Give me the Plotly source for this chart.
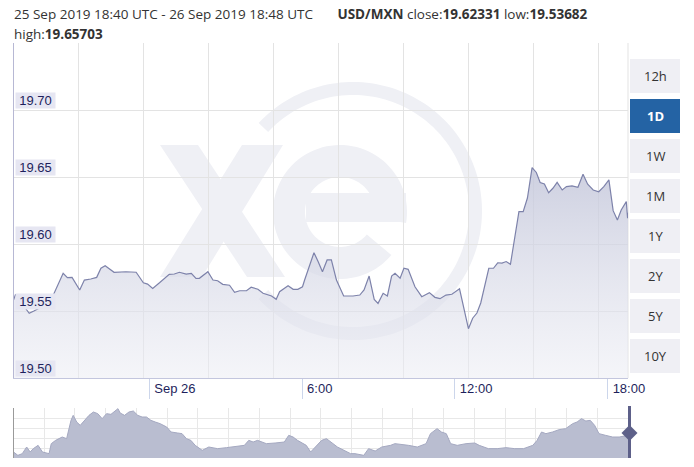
import numpy as np
import pandas as pd
import plotly.graph_objects as go

W, H = 694, 467

# ---------------- data ----------------
start_time = "2019-09-25 18:40"
end_time = "2019-09-26 18:48"
minutes_after_start = [0, 5, 13, 37, 48, 67, 92, 117, 127, 138, 156, 167, 182, 196, 206, 216, 237, 265, 289, 306,
                       316, 328, 344, 367, 379, 391, 407, 419, 430, 438, 458, 470, 481, 493, 509, 521, 533, 549, 560, 576,
                       588, 608, 619, 627, 647, 659, 670, 681, 686, 698, 708, 718, 728, 739, 749, 761, 778, 800, 816, 826,
                       838, 850, 859, 871, 881, 891, 899, 911, 920, 930, 946, 962, 980, 993, 1005, 1019, 1033, 1051, 1060, 1072,
                       1082, 1092, 1101, 1111, 1120, 1131, 1141, 1151, 1161, 1171, 1180, 1191, 1201, 1211, 1222, 1232, 1241, 1251, 1261, 1271,
                       1281, 1293, 1303, 1316, 1330, 1342, 1353, 1366, 1379, 1391, 1403, 1413, 1423, 1432, 1444, 1447, 1448]
usd_mxn = [19.5582, 19.5625, 19.5587, 19.5483, 19.5500, 19.5532, 19.5607, 19.5781, 19.5749, 19.5751,
           19.5657, 19.5731, 19.5739, 19.5751, 19.5819, 19.5838, 19.5789, 19.5793, 19.5789, 19.5711,
           19.5701, 19.5669, 19.5711, 19.5774, 19.5776, 19.5789, 19.5776, 19.5781, 19.5744, 19.5744,
           19.5793, 19.5731, 19.5726, 19.5699, 19.5692, 19.5640, 19.5651, 19.5651, 19.5677, 19.5662,
           19.5632, 19.5612, 19.5587, 19.5644, 19.5689, 19.5662, 19.5662, 19.5681, 19.5731, 19.5843,
           19.5935, 19.5868, 19.5793, 19.5881, 19.5881, 19.5731, 19.5612, 19.5612, 19.5619, 19.5657,
           19.5761, 19.5587, 19.5557, 19.5632, 19.5612, 19.5761, 19.5781, 19.5744, 19.5819, 19.5811,
           19.5681, 19.5607, 19.5637, 19.5602, 19.5592, 19.5619, 19.5625, 19.5666, 19.5537, 19.53682,
           19.5446, 19.5485, 19.5560, 19.5694, 19.5819, 19.5819, 19.5860, 19.5858, 19.5869, 19.5849,
           19.6030, 19.6241, 19.6241, 19.6343, 19.65703, 19.6534, 19.6459, 19.6448, 19.6383, 19.6416,
           19.6460, 19.6403, 19.6428, 19.6433, 19.6423, 19.6520, 19.6446, 19.6403, 19.6390, 19.6428,
           19.6478, 19.6249, 19.6179, 19.6254, 19.6316, 19.6192, 19.62331]

x_tick_times = ["2019-09-26 00:00", "2019-09-26 06:00", "2019-09-26 12:00", "2019-09-26 18:00"]
x_tick_labels = ["Sep 26", "6:00", "12:00", "18:00"]
y_tick_values = [19.50, 19.55, 19.60, 19.65, 19.70]
y_tick_labels = ["19.50", "19.55", "19.60", "19.65", "19.70"]

# navigator (longer history, approximate)
nav_start = "2019-05-09 18:48"
nav_end = "2019-09-26 18:48"
nav_days = [0, 1.0, 2.0, 3.0, 3.8, 4.5, 5.6, 6.6, 8.1, 8.6,
            9.6, 11.1, 12.1, 13.1, 13.6, 14.4, 15.2, 16.2, 17.2, 18.2,
            19.2, 20.2, 21.2, 22.2, 23.8, 24.3, 25.3, 26.3, 27.3, 28.3,
            29.3, 30.3, 31.3, 32.3, 33.4, 34.9, 35.9, 37.4, 38.4, 39.4,
            40.4, 41.4, 43.0, 44.5, 46.5, 48.5, 50.5, 52.6, 53.6, 54.6,
            55.6, 57.6, 59.6, 61.7, 62.7, 63.7, 64.7, 66.7, 67.7, 68.7,
            70.2, 71.3, 72.3, 73.8, 75.3, 76.8, 77.8, 79.8, 80.9, 82.4,
            83.9, 85.9, 86.9, 88.4, 90.0, 92.0, 94.0, 95.0, 96.0, 96.5,
            97.5, 98.6, 99.6, 101.1, 103.1, 105.1, 106.1, 108.2, 110.2, 112.2,
            114.2, 116.2, 118.3, 119.3, 120.3, 121.3, 122.8, 124.3, 125.8, 127.4,
            128.4, 129.4, 130.4, 131.4, 132.4, 133.4, 134.9, 136.5, 138.0, 139.5, 140.0]
nav_rates = [19.120, 19.053, 19.087, 19.220, 19.120, 19.187, 19.253, 19.120, 19.087, 19.287,
             19.353, 19.420, 19.387, 19.753, 19.853, 19.720, 19.653, 19.753, 19.853, 19.920,
             19.887, 19.787, 19.887, 19.873, 19.987, 19.900, 19.853, 19.920, 19.940, 19.853,
             19.820, 19.820, 19.753, 19.720, 19.687, 19.620, 19.520, 19.500, 19.487, 19.387,
             19.353, 19.253, 19.153, 19.220, 19.187, 19.207, 19.233, 19.253, 19.353, 19.320,
             19.353, 19.287, 19.300, 19.320, 19.453, 19.420, 19.353, 19.253, 19.120, 19.220,
             19.353, 19.387, 19.320, 19.220, 19.153, 19.087, 19.087, 19.053, 19.187, 19.140,
             19.220, 19.253, 19.287, 19.273, 19.253, 19.220, 19.287, 19.487, 19.553, 19.587,
             19.520, 19.487, 19.287, 19.253, 19.287, 19.300, 19.253, 19.187, 19.187, 19.207,
             19.187, 19.187, 19.253, 19.353, 19.520, 19.487, 19.520, 19.567, 19.587, 19.687,
             19.720, 19.787, 19.740, 19.753, 19.653, 19.487, 19.453, 19.420, 19.420, 19.453, 19.453]

range_buttons = ["12h", "1D", "1W", "1M", "1Y", "2Y", "5Y", "10Y"]
active_button = "1D"

header_line1 = ("25 Sep 2019 18:40 UTC - 26 Sep 2019 18:48 UTC" + "\u00a0" * 7 +
                "<b>USD/MXN</b> close:<b>19.62331</b> low:<b>19.53682</b>")
header_line2 = "high:<b>19.65703</b>"

# ---------------- helpers (pixel -> paper) ----------------
def px(x):
    return x / W

def py(y):
    return 1 - y / H

def path_from(points):
    return "M " + " L ".join(f"{px(a):.5f},{py(b):.5f}" for a, b in points) + " Z"

def ring(cx, cy, r_out, r_in, a0, a1, n=90):
    ang = np.radians(np.linspace(a0, a1, n))
    outer = [(cx + r_out * np.cos(t), cy - r_out * np.sin(t)) for t in ang]
    inner = [(cx + r_in * np.cos(t), cy - r_in * np.sin(t)) for t in ang[::-1]]
    return path_from(outer + inner)

times = pd.to_datetime(start_time) + pd.to_timedelta(minutes_after_start, unit="m")
nav_times = pd.to_datetime(nav_start) + pd.to_timedelta(nav_days, unit="D")

PLOT_L, PLOT_R, PLOT_T, PLOT_B = 13.5, 628, 43, 378
NAV_T, NAV_B = 408, 458

fig = go.Figure()

# main area series
fig.add_trace(go.Scatter(
    x=times, y=usd_mxn, mode="lines",
    line=dict(color="#7d82aa", width=1.2),
    fill="tozeroy",
    fillgradient=dict(type="vertical", start=19.50, stop=19.66,
                      colorscale=[[0, "rgba(236,237,244,0.55)"], [1, "rgba(195,198,218,0.85)"]]),
    hoverinfo="skip", xaxis="x", yaxis="y"))

# dummy trace for the evenly spaced vertical grid
fig.add_trace(go.Scatter(x=[0], y=[19.5], mode="markers", marker=dict(size=1, opacity=0),
                         hoverinfo="skip", xaxis="x3", yaxis="y"))

# navigator
fig.add_trace(go.Scatter(
    x=nav_times, y=nav_rates, mode="lines",
    line=dict(color="#a4a8c0", width=1),
    fill="tozeroy", fillcolor="#b9bdd0",
    hoverinfo="skip", xaxis="x2", yaxis="y2"))

xdom = [px(PLOT_L), px(PLOT_R)]
fig.update_layout(
    width=W, height=H,
    margin=dict(l=0, r=0, t=0, b=0),
    paper_bgcolor="white", plot_bgcolor="rgba(0,0,0,0)",
    showlegend=False,
    xaxis=dict(domain=xdom, anchor="y", type="date",
               range=[start_time, end_time], showgrid=False,
               tickvals=x_tick_times, ticktext=x_tick_labels,
               ticks="outside", ticklen=20, tickcolor="#ccd6eb", tickwidth=1,
               ticklabelposition="outside right", ticklabelstandoff=-2, ticklabelshift=4,
               tickfont=dict(family="Liberation Sans, Arial", size=13, color="#1e1f5c"),
               showline=True, linecolor="#c3c6de", linewidth=1, zeroline=False,
               automargin=False, fixedrange=True),
    xaxis3=dict(overlaying="x", anchor="y", range=[0, (PLOT_R - PLOT_L) / 65.0], dtick=1, tick0=0,
                showgrid=True, gridcolor="#e3e3e3", gridwidth=1, showticklabels=False,
                ticks="", zeroline=False, showline=False, automargin=False, fixedrange=True),
    yaxis=dict(domain=[py(PLOT_B), py(PLOT_T)], anchor="x", range=[19.50, 19.75],
               dtick=0.05, tick0=19.5, showgrid=True, gridcolor="#e3e3e3", gridwidth=1,
               showticklabels=False, ticks="", zeroline=False,
               showline=True, linecolor="#b7b8d4", linewidth=1, automargin=False, fixedrange=True),
    xaxis2=dict(domain=xdom, anchor="y2", type="date", range=[nav_start, nav_end],
                dtick=7 * 86400000, tick0=nav_start, showgrid=True, gridcolor="#e8e8e8",
                showticklabels=False, ticks="", zeroline=False, showline=False,
                automargin=False, fixedrange=True),
    yaxis2=dict(domain=[py(NAV_B), py(NAV_T)], anchor="x2", range=[19.0, 20.0],
                dtick=0.2, tick0=19.0, showgrid=True, gridcolor="#e8e8e8",
                showticklabels=False, ticks="", zeroline=False,
                showline=True, linecolor="#9a9a9a", linewidth=1, automargin=False, fixedrange=True),
)

shapes = []
WM = "#eff0f5"
# watermark "x"
shapes.append(dict(type="path", xref="paper", yref="paper", layer="below", line=dict(width=0), fillcolor=WM,
                   path=path_from([(160, 145), (198, 145), (285, 277), (247, 277)])))
shapes.append(dict(type="path", xref="paper", yref="paper", layer="below", line=dict(width=0), fillcolor=WM,
                   path=path_from([(242, 145), (283, 145), (202, 277), (160, 277)])))
# watermark "e"
shapes.append(dict(type="path", xref="paper", yref="paper", layer="below", line=dict(width=0), fillcolor=WM,
                   path=ring(340, 212, 67, 35, -9.5, 320)))
shapes.append(dict(type="path", xref="paper", yref="paper", layer="below", line=dict(width=0), fillcolor=WM,
                   path=path_from([(306, 193), (406, 193), (406, 222), (306, 222)])))
# watermark ring
shapes.append(dict(type="path", xref="paper", yref="paper", layer="below", line=dict(width=0), fillcolor=WM,
                   path=ring(353, 211, 129, 116, -137, 137, 140)))

# right border of plot
shapes.append(dict(type="line", xref="paper", yref="paper", x0=px(PLOT_R), x1=px(PLOT_R),
                   y0=py(PLOT_T), y1=py(PLOT_B), line=dict(color="#e3e3e3", width=1), layer="below"))

# navigator handle
HX, HY = 629.5, 433
shapes.append(dict(type="line", xref="paper", yref="paper", x0=px(HX), x1=px(HX),
                   y0=py(NAV_T - 2), y1=py(NAV_B), line=dict(color="#5d6089", width=3)))
shapes.append(dict(type="path", xref="paper", yref="paper", line=dict(width=0), fillcolor="#5d6089",
                   path=path_from([(HX, HY - 8), (HX + 8, HY), (HX, HY + 8), (HX - 8, HY)])))

annotations = []
# range buttons
for i, lab in enumerate(range_buttons):
    top = 59 + 40 * i
    active = lab == active_button
    shapes.append(dict(type="rect", xref="paper", yref="paper", x0=px(630), x1=px(680),
                       y0=py(top + 34), y1=py(top), line=dict(width=0),
                       fillcolor="#2463a4" if active else "#efeff4"))
    annotations.append(dict(xref="paper", yref="paper", x=px(655), y=py(top + 17), showarrow=False,
                            text=f"<b>{lab}</b>" if active else lab,
                            font=dict(family="Open Sans", size=13, color="white" if active else "#333333"),
                            xanchor="center", yanchor="middle"))

# y tick labels with background boxes
for v, lab in zip(y_tick_values, y_tick_labels):
    annotations.append(dict(xref="paper", yref="y", x=px(15), y=v, yshift=1, showarrow=False, text=lab,
                            xanchor="left", yanchor="bottom", bgcolor="#e6e6f2", borderpad=1,
                            width=37, height=13, align="center",
                            font=dict(family="Liberation Sans, Arial", size=13, color="#1e1f5c")))

# header
annotations.append(dict(xref="paper", yref="paper", x=px(12), y=py(14), showarrow=False, text=header_line1,
                        xanchor="left", yanchor="middle",
                        font=dict(family="Open Sans", size=13.5, color="#333333")))
annotations.append(dict(xref="paper", yref="paper", x=px(12), y=py(34), showarrow=False, text=header_line2,
                        xanchor="left", yanchor="middle",
                        font=dict(family="Open Sans", size=13.5, color="#333333")))

fig.update_layout(shapes=shapes, annotations=annotations)
fig.write_html("out.html", config={"displayModeBar": False},
               post_script="document.body.style.margin='0px';")
